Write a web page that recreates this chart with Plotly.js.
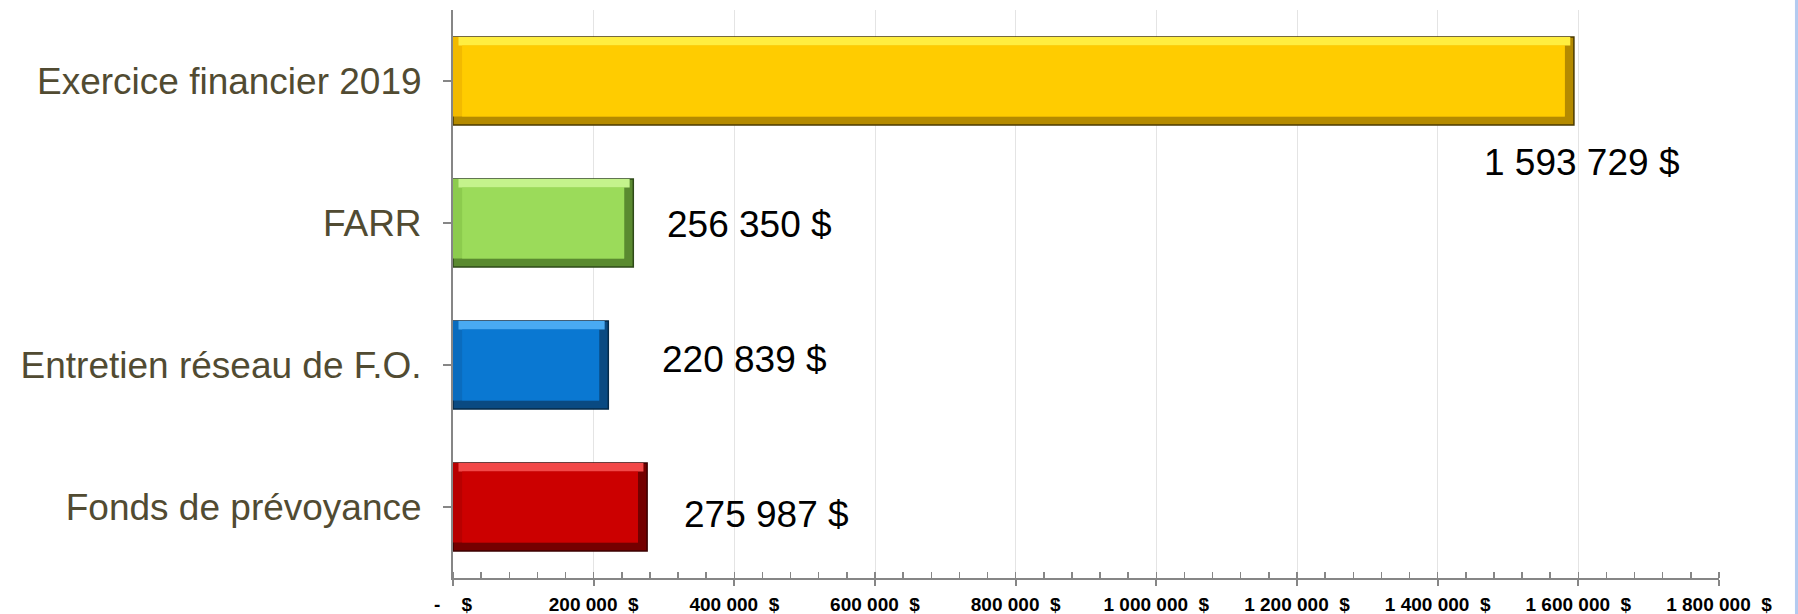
<!DOCTYPE html>
<html>
<head>
<meta charset="utf-8">
<script src="https://cdn.plot.ly/plotly-3.0.1.min.js"></script>
<style>
  html, body { margin: 0; padding: 0; background: #fff; }
  #graphDiv { width: 1798px; height: 614px; }
</style>
</head>
<body>
<div id="graphDiv"></div>
<script>
// data, top to bottom
var categories = ['Exercice financier 2019', 'FARR', 'Entretien réseau de F.O.', 'Fonds de prévoyance'];
var amounts = [1593729, 256350, 220839, 275987];
var amountLabels = ['1 593 729 $', '256 350 $', '220 839 $', '275 987 $'];

var tickValues = [0, 200000, 400000, 600000, 800000, 1000000, 1200000, 1400000, 1600000, 1800000];
var tickLabels = ['-    $', '200 000  $', '400 000  $', '600 000  $', '800 000  $',
                  '1 000 000  $', '1 200 000  $', '1 400 000  $', '1 600 000  $', '1 800 000  $'];

// bar colours (face, top highlight, left bevel, right/bottom shade, edge)
var faceColors  = ['#FFCC00', '#9BDB5A', '#0A78D2', '#CC0000'];
var lightColors = ['#FFEE40', '#C4F38C', '#49AAF2', '#F24848'];
var sideColors  = ['#F2BA00', '#8CCB4E', '#0A6CBE', '#B80000'];
var shadeColors = ['#B48A00', '#5A8A30', '#0A4A82', '#740000'];
var edgeColors  = ['#4A3A00', '#2E4A18', '#052A48', '#3A0000'];

// label nudges in px (the labels were placed by hand on the slide)
var labelAnchor = ['center', 'left', 'left', 'left'];
var labelShiftX = [8, 32, 52, 35];
var labelShiftY = [-81, -1, 6, -7];

var inset = 13000; // bevel width, in axis units

function nbsp(s) { return s.replace(/ /g, '\u00A0'); }

function layer(xs, base, width, offset, colors, line) {
  return {
    type: 'bar', orientation: 'h',
    x: xs, base: base, y: categories,
    width: width, offset: offset,
    marker: { color: colors, line: line || { width: 0 } },
    hoverinfo: 'skip'
  };
}

var shade = layer(amounts, 0, 0.62, -0.31, shadeColors, { color: edgeColors, width: 1.5 });
var side = layer(amounts.map(function(v) { return v - inset; }), 0, 0.56, -0.31, sideColors);
var light = layer(amounts.map(function(v) { return v - inset; }), inset * 0.6, 0.06, -0.31, lightColors);
var face = layer(amounts.map(function(v) { return v - 2 * inset; }), inset, 0.50, -0.25, faceColors);

var annotations = [];
for (var i = 0; i < categories.length; i++) {
  annotations.push({
    x: amounts[i], y: categories[i],
    xref: 'x', yref: 'y',
    text: nbsp(amountLabels[i]),
    showarrow: false,
    xanchor: labelAnchor[i], yanchor: 'middle',
    xshift: labelShiftX[i], yshift: labelShiftY[i],
    font: { family: 'Liberation Sans, Arial, sans-serif', size: 37, color: '#000000' }
  });
}

var layout = {
  width: 1798,
  height: 614,
  margin: { l: 453, r: 79, t: 10, b: 36 },
  paper_bgcolor: '#ffffff',
  plot_bgcolor: '#ffffff',
  barmode: 'overlay',
  showlegend: false,
  xaxis: {
    range: [0, 1800000],
    tickvals: tickValues,
    ticktext: tickLabels.map(nbsp),
    showgrid: true,
    gridcolor: '#E4E4E4',
    gridwidth: 1,
    zeroline: false,
    showline: true,
    linecolor: '#868686',
    linewidth: 2,
    ticks: 'outside',
    ticklen: 6,
    tickwidth: 2,
    tickcolor: '#868686',
    ticklabelstandoff: 2,
    tickfont: { family: 'Liberation Sans, Arial, sans-serif', size: 19, color: '#000000', weight: 'bold' },
    minor: { dtick: 40000, ticks: 'inside', ticklen: 6, tickwidth: 1.5, tickcolor: '#868686', showgrid: false },
    fixedrange: true
  },
  yaxis: {
    type: 'category',
    range: [3.5, -0.5],
    showgrid: false,
    zeroline: false,
    showline: true,
    linecolor: '#868686',
    linewidth: 2,
    ticks: 'outside',
    ticklen: 8,
    tickwidth: 1.5,
    tickcolor: '#868686',
    ticklabelstandoff: 14,
    tickfont: { family: 'Liberation Sans, Arial, sans-serif', size: 37, color: '#514B32' },
    fixedrange: true
  },
  annotations: annotations,
  shapes: [{
    type: 'rect', xref: 'paper', yref: 'paper',
    x0: 1.060, x1: 1.063, y0: -0.07, y1: 1.02,
    fillcolor: '#B4CBF0', line: { width: 0 }, layer: 'above'
  }]
};

Plotly.newPlot('graphDiv', [shade, side, light, face], layout, { displayModeBar: false, staticPlot: true });
</script>
</body>
</html>
